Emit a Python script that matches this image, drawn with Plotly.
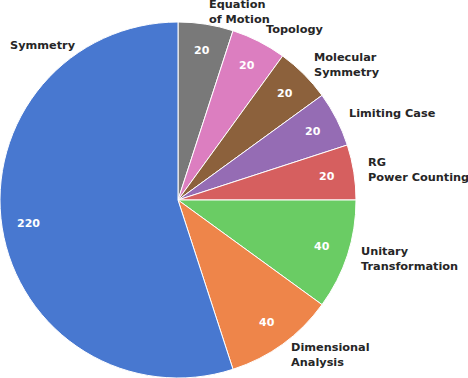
import math
import plotly.graph_objects as go

# listed clockwise from 12 o'clock
categories = ["Equation<br>of Motion", "Topology", "Molecular<br>Symmetry", "Limiting Case",
              "RG<br>Power Counting", "Unitary<br>Transformation", "Dimensional<br>Analysis", "Symmetry"]
values = [20, 20, 20, 20, 20, 40, 40, 220]
colors = ["#797979", "#dc7ec0", "#8c613c", "#956cb4", "#d65f5f", "#6acc64", "#ee854a", "#4878d0"]

W, H = 468, 378
cx, cy, R = 178.0, 200.0, 178.0

fig = go.Figure(go.Pie(
    labels=categories, values=values, sort=False, direction="clockwise", rotation=0,
    marker=dict(colors=colors, line=dict(color="white", width=1)),
    textinfo="none", hoverinfo="label+value", showlegend=False,
    domain=dict(x=[max(0, (cx - R) / W), min(1, (cx + R) / W)],
                y=[max(0, (H - cy - R) / H), min(1, (H - cy + R) / H)]),
))

total = sum(values)
annotations = []
start = 0.0
for lab, v in zip(categories, values):
    frac = v / total
    mid = (start + frac / 2) * 360.0  # degrees clockwise from top
    start += frac
    th = math.radians(90 - mid)
    # value text
    px = cx + 0.85 * R * math.cos(th)
    py = cy - 0.85 * R * math.sin(th)
    annotations.append(dict(x=px / W, y=1 - py / H, xref="paper", yref="paper", text=f"<b>{v}</b>",
                            showarrow=False, xanchor="center", yanchor="middle", borderpad=0,
                            font=dict(family="DejaVu Sans", size=11, color="white")))
    # category label
    if lab == "Symmetry":
        lx, ly, xa = 9, 45, "left"
    else:
        lr = 1.074 * R
        lx = cx + lr * math.cos(th)
        ly = max(cy - lr * math.sin(th), 12)
        xa = "left" if math.cos(th) > 0 else "right"
    annotations.append(dict(x=lx / W, y=1 - ly / H, xref="paper", yref="paper", text=f"<b>{lab}</b>",
                            showarrow=False, xanchor=xa, yanchor="middle", align="left", borderpad=0,
                            font=dict(family="DejaVu Sans", size=11.3, color="#262626")))

fig.update_layout(width=W, height=H, margin=dict(l=0, r=0, t=0, b=0),
                  paper_bgcolor="white", plot_bgcolor="white", annotations=annotations)
fig.write_html("out.html", config={"displayModeBar": False},
               post_script="document.body.style.margin='0';")
